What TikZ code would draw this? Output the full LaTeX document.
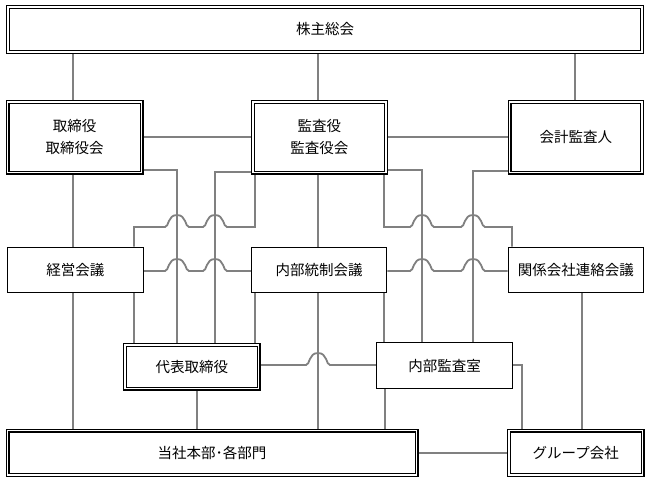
\documentclass[tikz,border=0pt]{standalone}
\usepackage{fontspec}
\setmainfont{Noto Sans CJK JP}
\definecolor{lg}{HTML}{808080}
\pgfdeclarelayer{back}
\pgfdeclarelayer{conns}
\pgfsetlayers{back,conns,main}
\begin{document}
\begin{tikzpicture}[x=1pt,y=-1pt,
 conn/.style={draw=lg,line width=1.8pt},
 dbox/.style={draw=black,line width=1.1pt,double=white,double distance=1.8pt,fill=white,inner sep=0pt,align=center,font=\fontsize{14.5}{21.5}\selectfont},
 sbox/.style={draw=black,line width=1.4pt,fill=white,inner sep=0pt,align=center,font=\fontsize{14.5}{21.5}\selectfont},
 hop/.style 2 args={insert path={-- (#1-12,#2) .. controls (#1-8,#2) and (#1-9.5,#2-12) .. (#1,#2-12) .. controls (#1+9.5,#2-12) and (#1+8,#2) .. (#1+12,#2)}}
]
\useasboundingbox (0,0) rectangle (650,483);
\begin{pgfonlayer}{back}
\fill[white] (0,0) rectangle (650,483);
\end{pgfonlayer}

\node[dbox,minimum width=634pt,minimum height=45pt] (kabu) at (325,29.5) {株主総会};
\node[dbox,minimum width=134pt,minimum height=70.5pt] (tori) at (74.5,137.25) {取締役\\取締役会};
\node[dbox,minimum width=133pt,minimum height=70.5pt] (kansa) at (319.3,137.25) {監査役\\監査役会};
\node[dbox,minimum width=132.5pt,minimum height=70.5pt] (kaikei) at (575.75,137.25) {会計監査人};
\node[sbox,minimum width=136pt,minimum height=45pt] (keiei) at (75.3,269.8) {経営会議};
\node[sbox,minimum width=135pt,minimum height=45pt] (naibu) at (319.2,269.8) {内部統制会議};
\node[sbox,minimum width=135pt,minimum height=45pt] (kankei) at (575.8,269.8) {関係会社連絡会議};
\node[dbox,minimum width=133.5pt,minimum height=43.5pt] (daihyo) at (191.75,366.75) {代表取締役};
\node[sbox,minimum width=136pt,minimum height=45.6pt] (shitsu) at (444.7,365.5) {内部監査室};
\node[dbox,minimum width=409pt,minimum height=44.5pt] (honbu) at (212,452.75) {当社本部･各部門};
\node[dbox,minimum width=133.5pt,minimum height=44.5pt] (group) at (575.75,452.75) {グループ会社};

\coordinate (k1) at (73,0);
\coordinate (k2) at (318,0);
\coordinate (k3) at (575,0);
\coordinate (xa) at (134,0);
\coordinate (xb) at (177,0);
\coordinate (xc) at (215,0);
\coordinate (xd) at (255,0);
\coordinate (xe) at (384,0);
\coordinate (xf) at (422,0);
\coordinate (xg) at (473,0);
\coordinate (xi) at (512,0);
\coordinate (xj) at (522,0);
\coordinate (xk) at (582,0);
\coordinate (xl) at (197,0);
\coordinate (xm) at (385,0);
\coordinate (r1) at (0,137);
\coordinate (r2) at (0,170);
\coordinate (r3) at (0,172);
\coordinate (r4) at (0,171);
\coordinate (h1) at (0,227);
\coordinate (h2) at (0,271);
\coordinate (h3) at (0,365);
\coordinate (h4) at (0,453);

\begin{pgfonlayer}{conns}
\draw[conn] (k1 |- kabu.south) -- (k1 |- tori.north);
\draw[conn] (k2 |- kabu.south) -- (k2 |- kansa.north);
\draw[conn] (k3 |- kabu.south) -- (k3 |- kaikei.north);
\draw[conn] (tori.east |- r1) -- (kansa.west |- r1);
\draw[conn] (kansa.east |- r1) -- (kaikei.west |- r1);
\draw[conn] (k1 |- tori.south) -- (k1 |- keiei.north);
\draw[conn] (k1 |- keiei.south) -- (k1 |- honbu.north);
\draw[conn] (k2 |- kansa.south) -- (k2 |- naibu.north);
\draw[conn] (k2 |- naibu.south) -- (k2 |- honbu.north);
\draw[conn] (xa |- keiei.south) -- (xa |- daihyo.north);
\draw[conn] (tori.east |- r2) -- (xb |- r2) -- (xb |- daihyo.north);
\draw[conn] (kansa.west |- r3) -- (xc |- r3) -- (xc |- daihyo.north);
\draw[conn] (xd |- naibu.south) -- (xd |- daihyo.north);
\draw[conn] (xa |- keiei.north) -- (xa |- h1) [hop={177}{227}] [hop={215}{227}] -- (xd |- h1) -- (xd |- kansa.south);
\draw[conn] (keiei.east |- h2) [hop={177}{271}] [hop={215}{271}] -- (naibu.west |- h2);
\draw[conn] (xe |- naibu.south) -- (xe |- shitsu.north);
\draw[conn] (kansa.east |- r2) -- (xf |- r2) -- (xf |- shitsu.north);
\draw[conn] (kaikei.west |- r4) -- (xg |- r4) -- (xg |- shitsu.north);
\draw[conn] (xe |- kansa.south) -- (xe |- h1) [hop={422}{227}] [hop={473}{227}] -- (xi |- h1) -- (xi |- kankei.north);
\draw[conn] (naibu.east |- h2) [hop={422}{271}] [hop={473}{271}] -- (kankei.west |- h2);
\draw[conn] (xk |- kankei.south) -- (xk |- group.north);
\draw[conn] (xl |- daihyo.south) -- (xl |- honbu.north);
\draw[conn] (xm |- shitsu.south) -- (xm |- honbu.north);
\draw[conn] (daihyo.east |- h3) [hop={318}{365}] -- (shitsu.west |- h3);
\draw[conn] (shitsu.east |- h3) -- (xj |- h3) -- (xj |- group.north);
\draw[conn] (honbu.east |- h4) -- (group.west |- h4);
\end{pgfonlayer}
\end{tikzpicture}
\end{document}
